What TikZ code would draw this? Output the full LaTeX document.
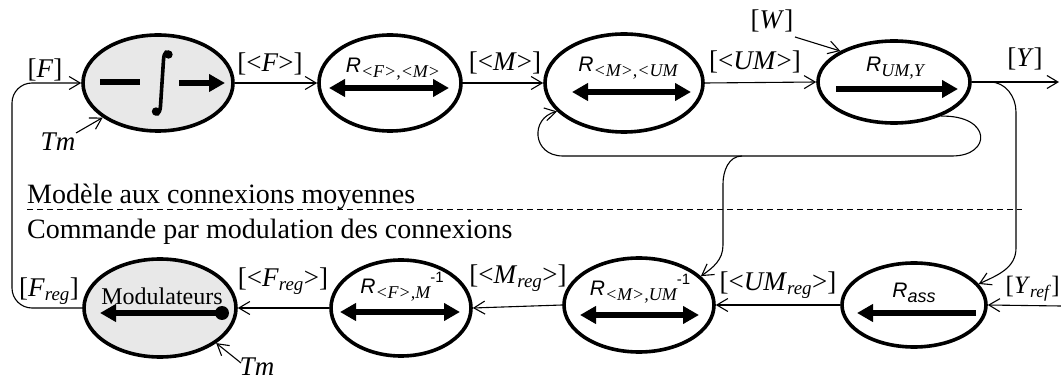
\documentclass[tikz,border=0pt]{standalone}
\usepackage{fontspec}
\setmainfont{Liberation Serif}
\newfontfamily\arialf{Liberation Sans}
\usetikzlibrary{arrows.meta,shapes.geometric}
\newcommand{\Rlab}[1]{{\arialf\itshape\fontsize{21}{21}\selectfont R}\raisebox{-5pt}{\fontsize{18}{18}\selectfont\itshape #1}}
\newcommand{\Rlabs}[1]{{\arialf\itshape\fontsize{21}{21}\selectfont R}\raisebox{-5pt}{\arialf\fontsize{18}{18}\selectfont\itshape #1}}
\newcommand{\minusone}{\raisebox{11pt}{\arialf\fontsize{15}{15}\selectfont -1}}
\begin{document}
\begin{tikzpicture}[x=1pt,y=-1pt,
  blk/.style={ellipse, draw, line width=3.6pt, inner sep=0pt},
  shaded/.style={fill=black!9},
  wire/.style={line width=1.1pt},
  arr/.style={line width=1.1pt, -{Straight Barb[length=11pt,width=13pt,line width=1.1pt]}},
  big/.style={line width=5.5pt},
  bigtip/.style={-{Triangle[length=16pt,width=17pt]}},
  dbltip/.style={{Triangle[length=16pt,width=17pt]}-{Triangle[length=16pt,width=17pt]}},
  lbl/.style={font=\fontsize{27}{30}\selectfont, inner sep=0pt},
  txt/.style={font=\fontsize{28}{31}\selectfont, inner sep=0pt, anchor=base west},
  rl/.style={inner sep=0pt}]
\useasboundingbox (0,0) rectangle (1061,382);

% top row
\node[blk, shaded, minimum width=150pt, minimum height=96pt] (int) at (158,83) {};
\node[blk, minimum width=142pt, minimum height=96pt] (rfm) at (390,83) {};
\node[blk, minimum width=158pt, minimum height=98pt] (rmum) at (624,83) {};
\node[blk, minimum width=152pt, minimum height=82pt] (ruy) at (894,82) {};

% bottom row
\node[blk, shaded, minimum width=152pt, minimum height=98pt] (mod) at (160,308) {};
\node[blk, minimum width=140pt, minimum height=96pt] (rfmi) at (401,308) {};
\node[blk, minimum width=150pt, minimum height=94pt] (rmumi) at (639,305) {};
\node[blk, minimum width=144pt, minimum height=84pt] (rass) at (914,305) {};

% integrator contents
\draw[big] (100,82) -- (140,82);
\draw[line width=3.6pt] (169,55) .. controls (168,50) and (164,51) .. (163.5,60) -- (160.5,106) .. controls (160,115) and (155,116) .. (156,111);
\fill (168.5,54.5) circle (4.2);
\fill (156,111.5) circle (4.2);
\draw[big, bigtip] (179,83) -- (225,83);

% R blocks contents
\node[rl] (lrfm) at (393,69) {\Rlab{<F>,<M>}};
\draw[big, dbltip] (329,88) -- (449,88);
\node[rl] (lrmum) at (628,68) {\Rlab{<M>,<UM}};
\draw[big, dbltip] (572,92) -- (691,92);
\node[rl] (lruy) at (895,68) {\Rlab{UM,Y}};
\draw[big, bigtip] (836,89) -- (958,89);

\node[rl, font=\fontsize{24}{26}\selectfont] (lmod) at (162,296) {Modulateurs};
\draw[big, bigtip] (222,313) -- (100,313);
\fill (222,313) circle (7);
\node[rl] (lrfmi) at (402,287) {\Rlab{<F>,M}\minusone};
\draw[big, dbltip] (340,312) -- (460,312);
\node[rl] (lrmumi) at (640,289) {\Rlab{<M>,UM}\minusone};
\draw[big, dbltip] (580,315) -- (699,315);
\node[rl] (lrass) at (914,293) {\Rlabs{ass}};
\draw[big, bigtip] (976,313) -- (857,313);

% coordinates
\coordinate (lb) at (12,308);
\coordinate (lt) at (12,83);
\coordinate (tmt) at (76,133);
\coordinate (tmb) at (241,363);
\coordinate (wt) at (795,37);
\coordinate (yout) at (1059,82);
\coordinate (ybr) at (990,82);
\coordinate (yv1) at (1016,112);
\coordinate (yv2) at (1016,248);
\coordinate (lr) at (952,156);
\coordinate (ll) at (563,156);
\coordinate (mbr) at (742,156);
\coordinate (mv1) at (723,184);
\coordinate (mv2) at (723,245);
\coordinate (yref) at (1061,306);

% top connectors
\draw[arr, rounded corners=20pt] (mod.west) -- (lb) -- (lt) -- (int.west);
\draw[arr] (tmt) -- (int.-148);
\draw[arr] (int.east) -- (rfm.west);
\draw[arr] (rfm.east) -- (rmum.west);
\draw[arr] (rmum.east) -- (ruy.west);
\draw[arr] (wt) -- (ruy.150);
\draw[arr] (ruy.east) -- (yout);
\draw[arr] (ybr) to[out=0,in=90] (yv1) -- (yv2) to[out=-90,in=25] (rass.18);
\draw[arr] (ruy.-36) .. controls (992,115) and (992,156) .. (lr) -- (ll) .. controls (532,156) and (530,118) .. (rmum.-157);
\draw[arr] (mbr) to[out=180,in=90] (mv1) -- (mv2) to[out=-90,in=35] (rmumi.25);

% bottom connectors
\draw[arr] (yref) -- (rass.east);
\draw[arr] (rass.west) -- (rmumi.east);
\draw[arr] (rmumi.west) -- (rfmi.east);
\draw[arr] (rfmi.west) -- (mod.east);
\draw[arr] (tmb) -- (mod.-32);

% separator
\draw[line width=1pt, dash pattern=on 6pt off 4pt] (27,210) -- (1022,210);
\node[txt] (t1) at (27,204) {Modèle aux connexions moyennes};
\node[txt] (t2) at (27,239) {Commande par modulation des connexions};

% labels
\node[lbl] (lF) at (45,70) {[\textit{F}]};
\node[lbl] (lTm) at (58,142) {\textit{Tm}};
\node[lbl] (lFm) at (270,64) {[<\textit{F}>]};
\node[lbl] (lMm) at (505,63) {[<\textit{M}>]};
\node[lbl] (lUMm) at (755,62) {[<\textit{UM}>]};
\node[lbl] (lW) at (772,21) {[\textit{W}]};
\node[lbl] (lY) at (1025,59) {[\textit{Y}]};
\node[lbl] (lFreg) at (49,291) {[\textit{F}\textsubscript{\textit{reg}}]};
\node[lbl] (lFregm) at (283,281) {[<\textit{F}\textsubscript{\textit{reg}}>]};
\node[lbl] (lMregm) at (518,278) {[<\textit{M}\textsubscript{\textit{reg}}>]};
\node[lbl] (lUMregm) at (778,285) {[<\textit{UM}\textsubscript{\textit{reg}}>]};
\node[lbl, anchor=east, font=\fontsize{25}{28}\selectfont] (lYref) at (1060,289) {[\textit{Y}\textsubscript{\textit{ref}}]};
\node[lbl] (lTmb) at (257,367) {\textit{Tm}};
\end{tikzpicture}
\end{document}
